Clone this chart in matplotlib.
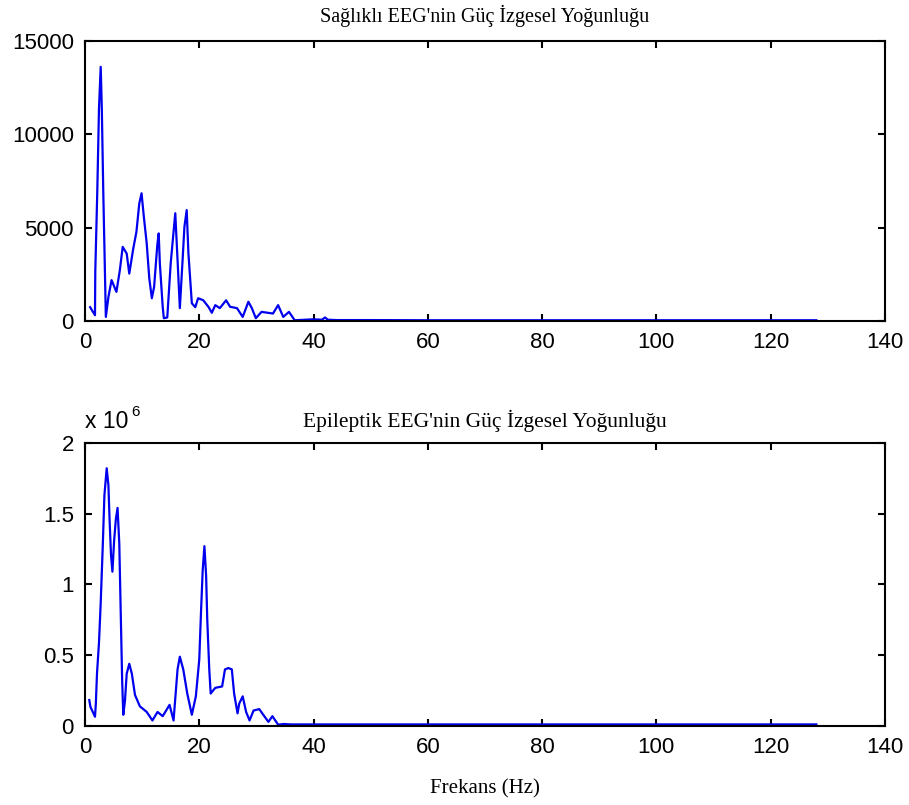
import numpy as np
import matplotlib.pyplot as plt

# Power spectral density of healthy vs epileptic EEG

# healthy EEG (frequency in Hz, power)
healthy_freq = [0.9, 1.75, 1.8, 2.15, 2.45, 2.75, 2.95, 3.2, 3.65, 4.1,
                4.65, 5.5, 6.1, 6.6, 7.3, 7.75, 8.45, 9.0, 9.5, 9.9,
                10.3, 10.8, 11.25, 11.7, 12.1, 12.65, 12.9, 13.1, 13.6, 13.8,
                14.4, 15.0, 15.5, 15.8, 16.2, 16.6, 17.1, 17.4, 17.8, 18.1,
                18.7, 19.3, 19.8, 20.7, 21.6, 22.2, 22.8, 23.6, 24.7, 25.4,
                26.6, 27.6, 28.6, 29.2, 29.9, 30.9, 32.9, 33.8, 34.7, 35.7,
                36.7, 39.9, 41.5, 42.0, 42.5, 44, 50, 60, 70, 80,
                90, 100, 110, 120, 128]
healthy_psd = [750, 320, 2640, 6930, 11400, 13620, 11300, 6930, 230, 1300,
               2200, 1570, 2730, 3980, 3620, 2550, 3890, 4780, 6300, 6850,
               5590, 4170, 2300, 1230, 1840, 4070, 4700, 3100, 770, 160,
               200, 3100, 4780, 5780, 3270, 700, 3370, 5050, 5950, 3640,
               960, 750, 1230, 1120, 770, 450, 860, 700, 1120, 770,
               700, 230, 1040, 700, 160, 500, 410, 860, 230, 500,
               50, 100, 80, 200, 80, 60, 60, 50, 50, 50,
               50, 50, 50, 50, 50]

# epileptic EEG (frequency in Hz, power in units of 10^6)
epileptic_freq = [0.75, 0.95, 1.75, 1.9, 2.1, 2.45, 2.75, 3.1, 3.4, 3.8,
                  4.1, 4.3, 4.55, 4.8, 5.1, 5.4, 5.7, 6.0, 6.25, 6.5,
                  6.7, 7.0, 7.3, 7.75, 8.2, 8.75, 9.6, 10.8, 11.8, 12.7,
                  13.6, 14.8, 15.5, 16.2, 16.6, 17.2, 17.9, 18.7, 19.4, 20.0,
                  20.3, 20.6, 20.9, 21.2, 21.4, 21.75, 22.0, 22.8, 24.0, 24.5,
                  25.1, 25.7, 26.1, 26.7, 27.0, 27.6, 28.2, 28.8, 29.5, 30.5,
                  31.2, 32.1, 32.8, 33.8, 34.8, 36, 40, 50, 60, 70,
                  80, 90, 100, 110, 120, 128]
epileptic_psd = [0.184, 0.136, 0.066, 0.16, 0.37, 0.59, 0.87, 1.26, 1.63, 1.82,
                 1.70, 1.46, 1.21, 1.09, 1.31, 1.46, 1.54, 1.29, 0.81, 0.33,
                 0.08, 0.18, 0.37, 0.44, 0.37, 0.22, 0.14, 0.10, 0.04, 0.10,
                 0.07, 0.15, 0.04, 0.40, 0.49, 0.40, 0.23, 0.08, 0.21, 0.47,
                 0.80, 1.10, 1.27, 1.06, 0.75, 0.40, 0.23, 0.27, 0.28, 0.40,
                 0.41, 0.40, 0.23, 0.09, 0.16, 0.21, 0.10, 0.04, 0.11, 0.12,
                 0.08, 0.03, 0.07, 0.01, 0.015, 0.012, 0.012, 0.012, 0.012, 0.012,
                 0.012, 0.012, 0.012, 0.012, 0.012, 0.012]

x_ticks = [0, 20, 40, 60, 80, 100, 120, 140]
healthy_yticks = [0, 5000, 10000, 15000]
epileptic_yticks = [0, 0.5, 1, 1.5, 2]
epileptic_ylabels = ['0', '0.5', '1', '1.5', '2']

tick_font = 'Liberation Sans'
title_font = 'Liberation Serif'

fig = plt.figure(figsize=(9.09, 8.05), dpi=100)
ax1 = fig.add_axes([0.0935, 0.601, 0.880, 0.348])
ax2 = fig.add_axes([0.0935, 0.098, 0.880, 0.352])

def style_axes(ax):
    ax.set_xlim(0, 140)
    ax.set_xticks(x_ticks)
    ax.tick_params(direction='in', length=5, width=1.5, top=True, right=True,
                   labelsize=16, pad=8)
    for lab in ax.get_xticklabels() + ax.get_yticklabels():
        lab.set_fontfamily(tick_font)
    for sp in ax.spines.values():
        sp.set_linewidth(1.5)

ax1.plot(healthy_freq, healthy_psd, color='#0000ee', lw=1.6)
ax1.set_ylim(0, 15000)
ax1.set_yticks(healthy_yticks)
ax1.set_yticklabels([str(v) for v in healthy_yticks])
style_axes(ax1)
ax1.set_title("Sağlıklı EEG'nin Güç İzgesel Yoğunluğu", fontfamily=title_font,
              fontsize=14.5, pad=14)

ax2.plot(epileptic_freq, epileptic_psd, color='#0000ee', lw=1.6)
ax2.set_ylim(0, 2)
ax2.set_yticks(epileptic_yticks)
ax2.set_yticklabels(epileptic_ylabels)
style_axes(ax2)
ax2.set_title("Epileptik EEG'nin Güç İzgesel Yoğunluğu", fontfamily=title_font,
              fontsize=15.5, pad=11)
# exponent label for the y axis
ax2.text(0.0, 1.035, 'x 10', transform=ax2.transAxes, fontfamily=tick_font,
         fontsize=16.5, ha='left', va='bottom')
ax2.text(0.058, 1.085, '6', transform=ax2.transAxes, fontfamily=tick_font,
         fontsize=11, ha='left', va='bottom')
ax2.set_xlabel('Frekans (Hz)', fontfamily=title_font, fontsize=15, labelpad=15)

fig.savefig('out.png', dpi=100)
